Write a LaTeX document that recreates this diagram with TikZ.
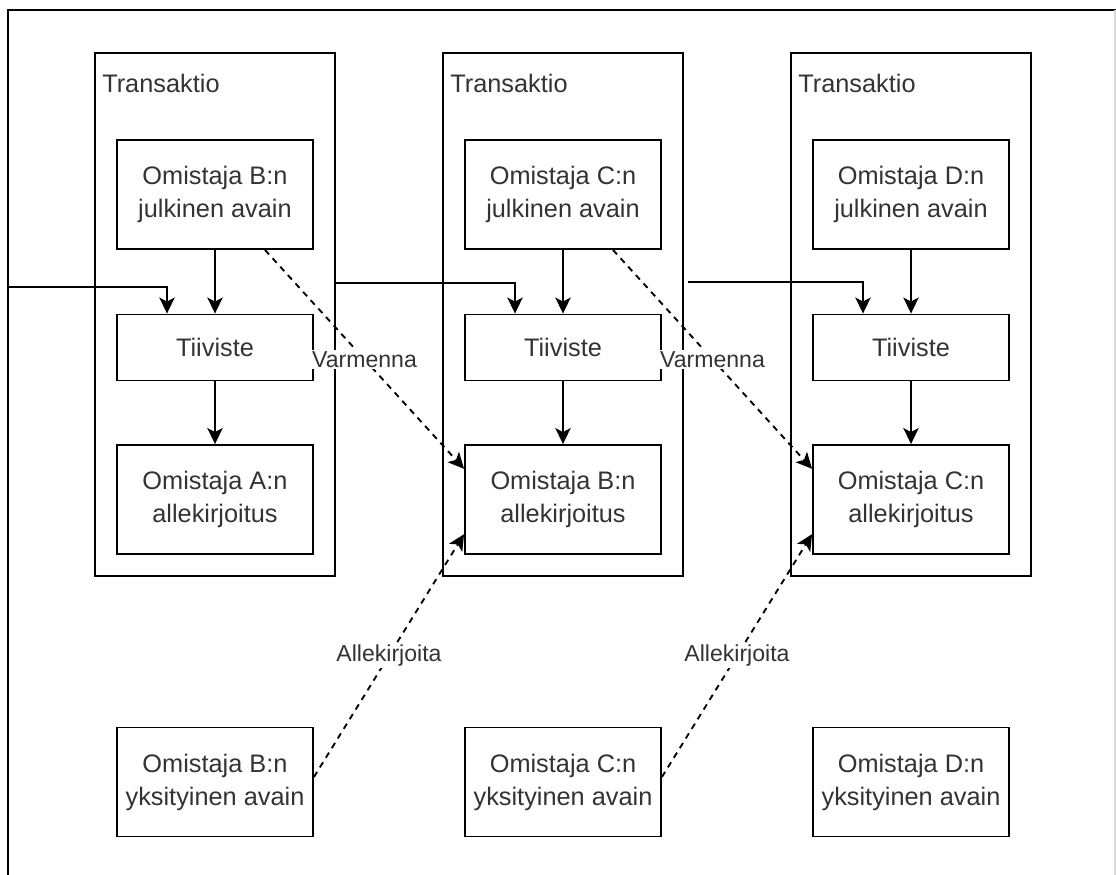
\documentclass[tikz,border=0pt]{standalone}
\usepackage{fontspec}
\setmainfont{Liberation Sans}
\usetikzlibrary{arrows.meta,calc}
\begin{document}
\begin{tikzpicture}[x=0.75pt,y=-0.75pt,
  every node/.style={text=black!80},
  frame/.style={draw=black, line width=1.4pt, inner sep=0pt},
  txbox/.style={frame, minimum width=180pt, minimum height=392.25pt},
  keybox/.style={frame, minimum width=147pt, minimum height=81.75pt, align=center,
     font=\fontsize{19}{24.75}\selectfont},
  hashbox/.style={keybox, minimum height=49.5pt},
  txlabel/.style={inner sep=0pt, anchor=base west, font=\fontsize{19}{24.75}\selectfont},
  arr/.style={line width=1.4pt, -{Stealth[length=12pt,width=11.5pt,inset=3pt]}},
  darr/.style={arr, dash pattern=on 4.5pt off 4pt},
  lbl/.style={fill=white, inner sep=1pt, font=\fontsize{17.3}{21}\selectfont}
]
\useasboundingbox (0,0) rectangle (1116,874);
% outer frame (cropped)
\draw[line width=1.4pt] (8,880) -- (8,10) -- (1120,10);
\draw[line width=1pt, black!15] (1115,10) -- (1115,880);

% transaction boxes
\foreach \i/\x in {1/215,2/563,3/911}{
  \node[txbox] (T\i) at (\x,314.5) {};
}
\node[txlabel] (L1) at (102,93) {Transaktio};
\node[txlabel] (L2) at (450,93) {Transaktio};
\node[txlabel] (L3) at (798,93) {Transaktio};

% public keys
\node[keybox] (P1) at (215,194.5) {Omistaja B:n\\julkinen avain};
\node[keybox] (P2) at (563,194.5) {Omistaja C:n\\julkinen avain};
\node[keybox] (P3) at (911,194.5) {Omistaja D:n\\julkinen avain};
% hashes
\node[hashbox] (H1) at (215,347.5) {Tiiviste};
\node[hashbox] (H2) at (563,347.5) {Tiiviste};
\node[hashbox] (H3) at (911,347.5) {Tiiviste};
% signatures
\node[keybox] (S1) at (215,499.5) {Omistaja A:n\\allekirjoitus};
\node[keybox] (S2) at (563,499.5) {Omistaja B:n\\allekirjoitus};
\node[keybox] (S3) at (911,499.5) {Omistaja C:n\\allekirjoitus};
% private keys
\node[keybox] (K1) at (215,782) {Omistaja B:n\\yksityinen avain};
\node[keybox] (K2) at (563,782) {Omistaja C:n\\yksityinen avain};
\node[keybox] (K3) at (911,782) {Omistaja D:n\\yksityinen avain};

% vertical arrows inside transactions
\foreach \i in {1,2,3}{
  \draw[arr] (P\i) -- (H\i);
  \draw[arr] (H\i) -- (S\i);
}

% chain arrows
\coordinate (start) at (8,287);
\draw[arr] (start) -| ([xshift=-36pt]H1.north);
\draw[arr] ([yshift=23.6pt]T1.east) -| ([xshift=-36pt]H2.north);
\draw[arr] ([yshift=24.4pt,xshift=3pt]T2.east) -| ([xshift=-36pt]H3.north);

% verify arrows
\draw[darr] ([xshift=37.5pt]P1.south) -- node[lbl] (V1) {Varmenna} ([yshift=23pt]S2.west);
\draw[darr] ([xshift=37.5pt]P2.south) -- node[lbl] (V2) {Varmenna} ([yshift=23pt]S3.west);

% sign arrows
\draw[darr] ([yshift=3.75pt]K1.east) -- node[lbl] (A1) {Allekirjoita} ([yshift=-26pt]S2.west);
\draw[darr] ([yshift=3.75pt]K2.east) -- node[lbl] (A2) {Allekirjoita} ([yshift=-26pt]S3.west);
\end{tikzpicture}
\end{document}
